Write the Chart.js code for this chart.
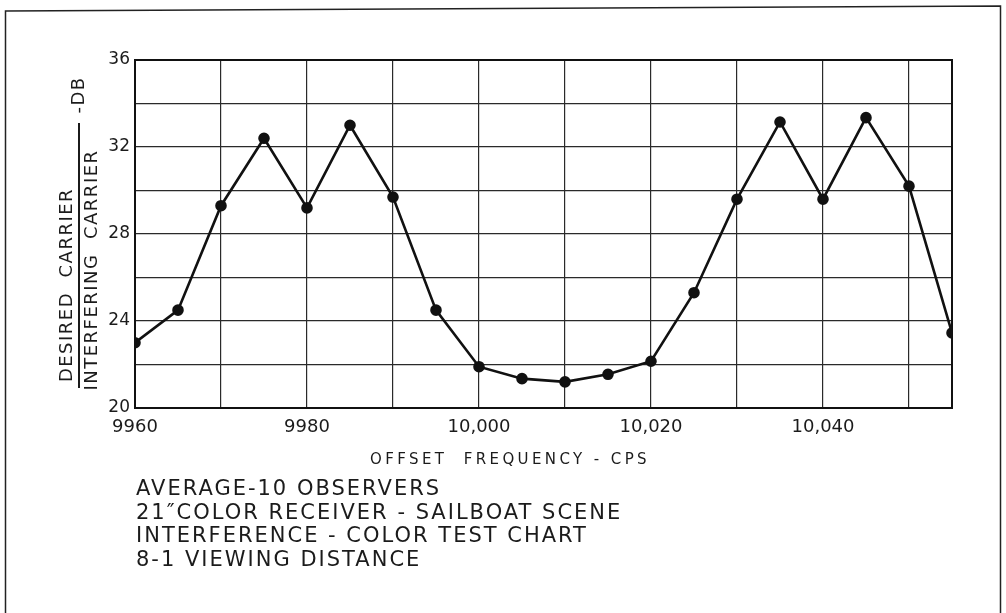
<!DOCTYPE html>
<html>
<head>
<meta charset="utf-8">
<script src="https://cdn.jsdelivr.net/npm/chart.js@4/dist/chart.umd.min.js"></script>
<style>
  html, body { margin: 0; padding: 0; background: #fff; }
  #wrap { width: 1006px; height: 613px; }
</style>
</head>
<body>
<div id="wrap"><canvas id="chart" width="1006" height="613"></canvas></div>
<script>
// offset frequency (cps) and carrier ratio (db)
const freqs = [9960, 9965, 9970, 9975, 9980, 9985, 9990, 9995, 10000, 10005,
  10010, 10015, 10020, 10025, 10030, 10035, 10040, 10045, 10050, 10055];
const ratioDb = [23.0, 24.5, 29.3, 32.4, 29.2, 33.0, 29.7, 24.5, 21.9, 21.35,
  21.2, 21.55, 22.15, 25.3, 29.6, 33.15, 29.6, 33.35, 30.2, 23.45];

const xGridValues = [9960, 9970, 9980, 9990, 10000, 10010, 10020, 10030, 10040, 10050];
const xTickValues = [9960, 9980, 10000, 10020, 10040];
const xTickText = ['9960', '9980', '10,000', '10,020', '10,040'];
const yTickValues = [20, 24, 28, 32, 36];

const notes = [
  'AVERAGE-10 OBSERVERS',
  '21\u2033COLOR RECEIVER - SAILBOAT SCENE',
  'INTERFERENCE - COLOR TEST CHART',
  '8-1 VIEWING DISTANCE'
];

const FONT = '"DejaVu Sans", sans-serif';
const INK = '#1b1b1b';

// page frame, plot box, rotated y title and the notes under the chart
const decorations = {
  id: 'decorations',
  beforeDraw(chart) {
    const ctx = chart.ctx;
    ctx.save();
    ctx.strokeStyle = '#222';
    ctx.lineWidth = 1.5;
    ctx.beginPath();
    ctx.moveTo(5.5, 613);
    ctx.lineTo(5.5, 11);
    ctx.lineTo(1000.5, 6);
    ctx.lineTo(1000.5, 613);
    ctx.stroke();
    ctx.restore();
  },
  afterDatasetsDraw(chart) {
    const ctx = chart.ctx;
    const a = chart.chartArea;
    ctx.save();
    ctx.strokeStyle = '#111';
    ctx.lineWidth = 2;
    ctx.strokeRect(a.left, a.top, a.right - a.left, a.bottom - a.top);

    ctx.fillStyle = INK;
    ctx.textAlign = 'center';
    ctx.textBaseline = 'middle';
    ctx.letterSpacing = '1.5px';

    // y title as a fraction, rotated
    ctx.font = '18px ' + FONT;
    ctx.save();
    ctx.translate(67, 285);
    ctx.rotate(-Math.PI / 2);
    ctx.fillText('DESIRED  CARRIER', 0, 0);
    ctx.restore();
    ctx.save();
    ctx.translate(92, 270);
    ctx.rotate(-Math.PI / 2);
    ctx.fillText('INTERFERING  CARRIER', 0, 0);
    ctx.restore();
    ctx.save();
    ctx.translate(79, 95);
    ctx.rotate(-Math.PI / 2);
    ctx.fillText('-DB', 0, 0);
    ctx.restore();
    ctx.strokeStyle = INK;
    ctx.lineWidth = 2;
    ctx.beginPath();
    ctx.moveTo(79, 123);
    ctx.lineTo(79, 388);
    ctx.stroke();

    // x title
    ctx.font = '15px ' + FONT;
    ctx.letterSpacing = '3.4px';
    ctx.fillText('OFFSET  FREQUENCY - CPS', 510, 460);

    // notes
    ctx.textAlign = 'left';
    ctx.font = '21px ' + FONT;
    ctx.letterSpacing = '2px';
    notes.forEach((t, i) => ctx.fillText(t, 136, 490 + i * 23.5));
    ctx.restore();
  }
};

new Chart(document.getElementById('chart'), {
  type: 'line',
  data: {
    datasets: [{
      data: freqs.map((f, i) => ({ x: f, y: ratioDb[i] })),
      borderColor: '#111',
      borderWidth: 2.6,
      pointRadius: 4.5,
      pointBackgroundColor: '#111',
      pointBorderColor: '#111',
      tension: 0
    }]
  },
  options: {
    responsive: false,
    animation: false,
    events: [],
    layout: { padding: { left: 0, top: 60, right: 54, bottom: 0 } },
    plugins: { legend: { display: false }, tooltip: { enabled: false } },
    scales: {
      x: {
        type: 'linear',
        min: 9960,
        max: 10055,
        afterBuildTicks: s => { s.ticks = xGridValues.map(v => ({ value: v })); },
        afterFit: s => { s.height = 205; },
        border: { display: false },
        grid: { color: '#2a2a2a', lineWidth: 1.2, drawTicks: false },
        ticks: {
          autoSkip: false,
          maxRotation: 0,
          padding: 9,
          color: INK,
          font: { family: FONT, size: 18 },
          callback: v => {
            const i = xTickValues.indexOf(v);
            return i >= 0 ? xTickText[i] : '';
          }
        }
      },
      y: {
        min: 20,
        max: 36,
        afterFit: s => { s.width = 135; },
        border: { display: false },
        grid: { color: '#2a2a2a', lineWidth: 1.2, drawTicks: false },
        ticks: {
          stepSize: 2,
          padding: 5,
          color: INK,
          font: { family: FONT, size: 17 },
          callback: v => yTickValues.includes(v) ? String(v) : ''
        }
      }
    }
  },
  plugins: [decorations]
});
</script>
</body>
</html>
